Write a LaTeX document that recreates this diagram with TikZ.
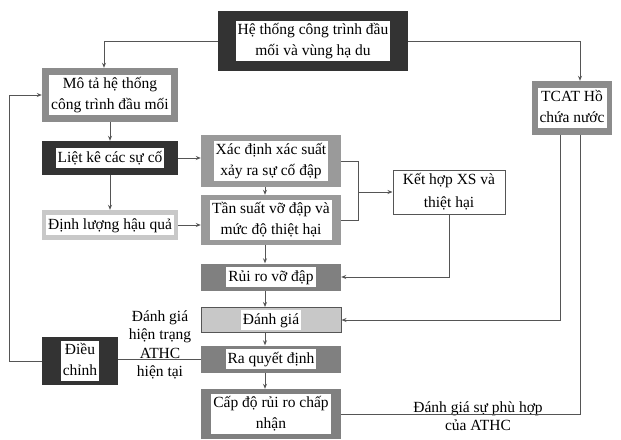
\documentclass[tikz,border=0pt]{standalone}
\usepackage{fontspec}
\setmainfont{Liberation Serif}
\usetikzlibrary{arrows.meta}
\definecolor{dkc}{HTML}{333333}
\definecolor{mdc}{HTML}{8C8C8C}
\definecolor{gyc}{HTML}{9A9A9A}
\definecolor{rrc}{HTML}{808080}
\definecolor{ltc}{HTML}{C8C8C8}
\definecolor{linec}{HTML}{555555}
\newcommand{\wtxt}[1]{{\setlength{\fboxsep}{0pt}\colorbox{white}{\renewcommand{\arraystretch}{0.88}\begin{tabular}{@{\hspace{2pt}}c@{\hspace{2pt}}}#1\end{tabular}}}}
\tikzset{ bx/.style = { rectangle
                      , fill      = #1
                      , inner sep = 0pt
                      },
          ln/.style = { draw       = linec
                      , line width = 1pt
                      },
          ar/.style = { ln
                      , -{Stealth[length=5pt, width=4pt]}
                      },
          lb/.style = { align     = center
                      , inner sep = 0pt
                      , font      = \fontsize{15.5}{18.5}\selectfont
                      }
        }

\begin{document}
\begin{tikzpicture}[x=1pt, y=-1pt, font=\fontsize{15.5}{23}\selectfont]
    \useasboundingbox (0,0) rectangle (621,439);
    % boxes
    \node[bx=dkc, minimum width=190pt, minimum height=60pt] (top) at (313,41)
        {\wtxt{Hệ thống công trình đầu\\mối và vùng hạ du}};
    \node[bx=mdc, minimum width=136pt, minimum height=54pt] (mota) at (110,95)
        {\wtxt{Mô tả hệ thống\\công trình đầu mối}};
    \node[bx=mdc, minimum width=80pt, minimum height=54pt] (tcat) at (572,108)
        {\wtxt{TCAT Hồ\\chứa nước}};
    \node[bx=dkc, minimum width=136pt, minimum height=34pt] (lietke) at (110,158)
        {\wtxt{Liệt kê các sự cố}};
    \node[bx=gyc, minimum width=140pt, minimum height=52pt] (xacdinh) at (271,161)
        {\wtxt{Xác định xác suất\\xảy ra sự cố đập}};
    \node[draw=linec, line width=1pt, minimum width=112pt, minimum height=44pt,
          align=center, inner sep=0pt] (ketlop) at (449,192)
        {Kết hợp XS và\\thiệt hại};
    \node[bx=ltc, minimum width=136pt, minimum height=30pt] (dinhluong) at (110,225)
        {\wtxt{Định lượng hậu quả}};
    \node[bx=gyc, minimum width=140pt, minimum height=50pt] (tansuat) at (271,220)
        {\wtxt{Tần suất vỡ đập và\\mức độ thiệt hại}};
    \node[bx=rrc, minimum width=140pt, minimum height=27pt] (ruiro) at (271,277)
        {\wtxt{Rủi ro vỡ đập}};
    \node[bx=ltc, draw=linec, line width=1pt, minimum width=140pt, minimum height=25pt] (danhgia) at (271,320)
        {\wtxt{Đánh giá}};
    \node[bx=rrc, minimum width=140pt, minimum height=27pt] (raqd) at (271,359)
        {\wtxt{Ra quyết định}};
    \node[bx=rrc, minimum width=140pt, minimum height=50pt] (capdo) at (271,414)
        {\wtxt{Cấp độ rủi ro chấp\\nhận}};
    \node[bx=dkc, minimum width=76pt, minimum height=48pt] (dieuchinh) at (80,361)
        {\wtxt{Điều\\chỉnh}};
    % labels
    \node[lb] (hientrang) at (160,345) {Đánh giá\\hiện trạng\\ATHC\\hiện tại};
    \node[lb] (phuhop) at (478,416) {Đánh giá sự phù hợp\\của ATHC};
    % connectors
    \draw[ar] (top.west) -| ([xshift=-6pt]mota.north);
    \draw[ar] (top.east) -| ([xshift=8pt]tcat.north);
    \draw[ar] (mota.south) -- (lietke.north);
    \draw[ar] (lietke.east) -- (lietke.east -| xacdinh.west);
    \draw[ar] (lietke.south) -- (dinhluong.north);
    \draw[ar] (dinhluong.east) -- (dinhluong.east -| tansuat.west);
    \draw[ar] ([xshift=-6pt]xacdinh.south) -- ([xshift=-6pt]tansuat.north);
    \path (xacdinh.east) ++(17,0) coordinate (br);
    \draw[ln] (xacdinh.east) -- (br) |- (tansuat.east);
    \draw[ar] (br |- ketlop.west) -- (ketlop.west);
    \draw[ar] (ketlop.south) |- (ruiro.east);
    \draw[ar] ([xshift=-6pt]tansuat.south) -- ([xshift=-6pt]ruiro.north);
    \draw[ar] ([xshift=-6pt]ruiro.south) -- ([xshift=-6pt]danhgia.north);
    \draw[ar] ([xshift=-6pt]danhgia.south) -- ([xshift=-6pt]raqd.north);
    \draw[ar] ([xshift=-6pt]raqd.south) -- ([xshift=-6pt]capdo.north);
    \draw[ar] ([xshift=-12pt]tcat.south) |- (danhgia.east);
    \draw[ln] ([xshift=8pt]tcat.south) |- (capdo.east);
    \draw[ln] (raqd.west) -- (raqd.west -| dieuchinh.east);
    \draw[ar] (dieuchinh.west) -- ++(-32,0) |- (mota.west);
\end{tikzpicture}
\end{document}
